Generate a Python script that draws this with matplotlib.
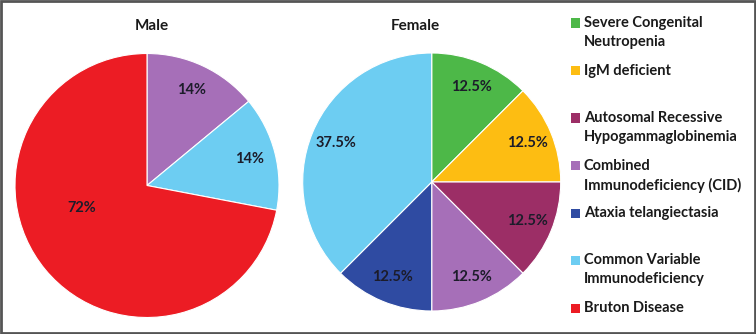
import matplotlib
matplotlib.use("Agg")
import matplotlib.pyplot as plt
from matplotlib.patches import Rectangle
import numpy as np

plt.rcParams['font.family'] = ['Lato', 'DejaVu Sans']

# legend categories and colours
categories = ['Severe Congenital\nNeutropenia', 'IgM deficient',
              'Autosomal Recessive\nHypogammaglobinemia', 'Combined\nImmunodeficiency (CID)',
              'Ataxia telangiectasia', 'Common Variable\nImmunodeficiency', 'Bruton Disease']
colors = ['#4DB848', '#FDBD12', '#9C2E66', '#A66FB8', '#2F4BA2', '#6DCDF2', '#EC1C24']

# male: clockwise from 12 o'clock
male_idx = [3, 5, 6]
male_values = [14, 14, 72]
male_labels = ['14%', '14%', '72%']

# female: clockwise from 12 o'clock
female_idx = [0, 1, 2, 3, 4, 5]
female_values = [12.5, 12.5, 12.5, 12.5, 12.5, 37.5]
female_labels = ['12.5%', '12.5%', '12.5%', '12.5%', '12.5%', '37.5%']

W, H = 756, 334
fig = plt.figure(figsize=(W / 100, H / 100), dpi=100)
fig.patch.set_facecolor('white')


def pie_axes(cx, cy, r):
    return fig.add_axes([(cx - r) / W, (H - cy - r) / H, 2 * r / W, 2 * r / H])


def draw_pie(ax, values, idx, labels):
    wedges, _ = ax.pie(values, colors=[colors[i] for i in idx], startangle=90,
                       counterclock=False,
                       wedgeprops=dict(edgecolor='white', linewidth=0.8))
    texts = []
    theta = 90.0
    total = sum(values)
    for v, lab in zip(values, labels):
        mid = np.deg2rad(theta - v / total * 180)
        t = ax.text(0.8 * np.cos(mid), 0.8 * np.sin(mid), lab, ha='center', va='center',
                    fontsize=10.5, fontweight='bold', color='#1c1c2a')
        texts.append(t)
        theta -= v / total * 360
    ax.set_xlim(-1, 1)
    ax.set_ylim(-1, 1)
    ax.set_aspect('equal')
    ax.axis('off')
    return texts


ax_m = pie_axes(147, 185.5, 132)
mt = draw_pie(ax_m, male_values, male_idx, male_labels)
# Excel's best-fit spot for the big slice
a = np.deg2rad(-161)
mt[2].set_position((0.52 * np.cos(a), 0.52 * np.sin(a)))

ax_f = pie_axes(431.7, 182, 129)
draw_pie(ax_f, female_values, female_idx, female_labels)

fig.text(152 / W, 1 - 26 / H, 'Male', ha='center', va='center',
         fontsize=11, fontweight='bold', color='#1a1a1a')
fig.text(415 / W, 1 - 26 / H, 'Female', ha='center', va='center',
         fontsize=11, fontweight='bold', color='#1a1a1a')

# legend, one slot per category
for i, (lab, c) in enumerate(zip(categories, colors)):
    y = 23 + i * 47.5
    fig.patches.append(Rectangle((571 / W, 1 - (y + 4.5) / H), 9 / W, 9 / H,
                                 transform=fig.transFigure, facecolor=c, edgecolor='none'))
    fig.text(584 / W, 1 - (y - 7) / H, lab, ha='left', va='top', fontsize=10.5,
             fontweight='bold', color='#1a1a1a', linespacing=1.45)

# outer frame
fig.patches.append(Rectangle((0.0015, 0.003), 0.997, 0.994, transform=fig.transFigure,
                             facecolor='none', edgecolor='#555555', linewidth=2))

fig.savefig('out.png', dpi=100)
